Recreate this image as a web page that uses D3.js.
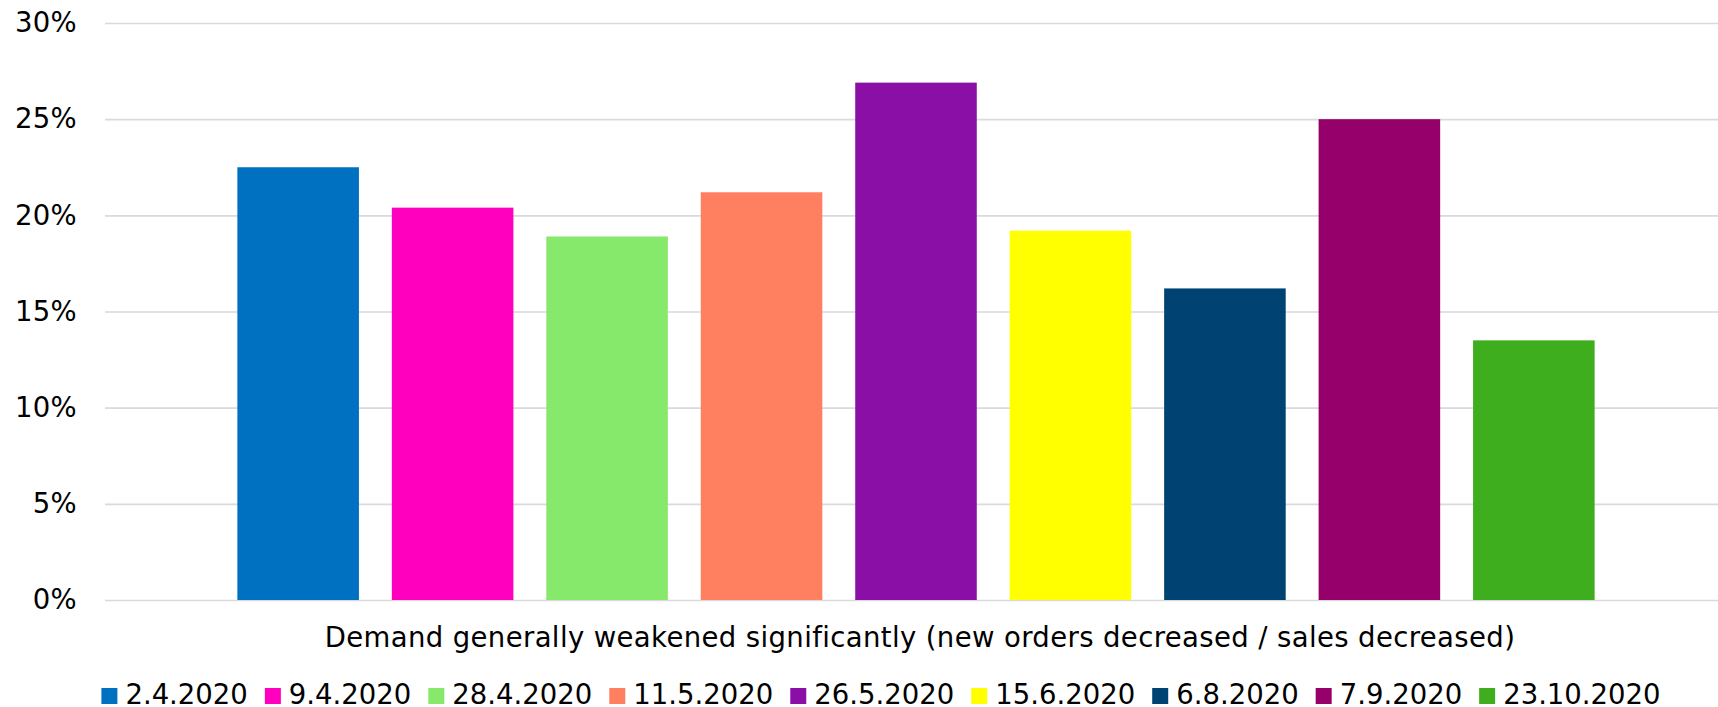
<!DOCTYPE html>
<html>
<head>
<meta charset="utf-8">
<script src="https://cdn.jsdelivr.net/npm/d3@7"></script>
<style>
  html, body { margin: 0; padding: 0; background: #ffffff; }
  svg { display: block; font-family: "DejaVu Sans", Verdana, sans-serif; }
</style>
</head>
<body>
<svg id="chart" width="1718" height="707"></svg>
<script>
// Survey waves (series) and share of firms reporting significantly weakened demand
const category = "Demand generally weakened significantly (new orders decreased / sales decreased)";
const seriesNames = ["2.4.2020", "9.4.2020", "28.4.2020", "11.5.2020", "26.5.2020", "15.6.2020", "6.8.2020", "7.9.2020", "23.10.2020"];
const seriesValues = [22.5, 20.4, 18.9, 21.2, 26.9, 19.2, 16.2, 25.0, 13.5];
const seriesColors = ["#0070c0", "#ff00bf", "#87e96b", "#ff8060", "#8a0fa7", "#ffff00", "#004372", "#96006a", "#3eae1f"];
const yTicks = [0, 5, 10, 15, 20, 25, 30];

const svg = d3.select("#chart");
const fontSize = 27.5;

const plot = { left: 105, right: 1718, top: 23, bottom: 600 };

const y = d3.scaleLinear().domain([0, 30]).range([plot.bottom, plot.top]);

// one category, nine series side by side
const x = d3.scaleBand()
  .domain(seriesNames)
  .range([221, 1611])
  .paddingInner(0.213)
  .paddingOuter(0.106);

// horizontal gridlines + tick labels
const yAxis = d3.axisLeft(y)
  .tickValues(yTicks)
  .tickSize(-(plot.right - plot.left))
  .tickPadding(28)
  .tickFormat(d => d + "%");

const gy = svg.append("g")
  .attr("transform", `translate(${plot.left},0)`)
  .call(yAxis);
gy.select(".domain").remove();
gy.selectAll(".tick line")
  .attr("stroke", "#d9d9de")
  .attr("stroke-width", 1.6);
gy.selectAll(".tick text")
  .attr("fill", "#000")
  .attr("font-size", fontSize)
  .attr("letter-spacing", 0.3)
  .attr("font-family", "DejaVu Sans, Verdana, sans-serif");

// bars
svg.append("g")
  .selectAll("rect")
  .data(seriesNames.map((n, i) => ({ name: n, value: seriesValues[i], color: seriesColors[i] })))
  .join("rect")
  .attr("x", d => x(d.name))
  .attr("width", x.bandwidth())
  .attr("y", d => y(d.value))
  .attr("height", d => y(0) - y(d.value))
  .attr("fill", d => d.color);

// category label
svg.append("text")
  .attr("x", 920)
  .attr("y", 647)
  .attr("text-anchor", "middle")
  .attr("font-size", fontSize)
  .attr("letter-spacing", 0.38)
  .attr("fill", "#000")
  .text(category);

// legend, centred below the category label
const legend = svg.append("g");
const swatch = 16, swatchGap = 8, itemGap = 17;
const items = legend.selectAll("g")
  .data(seriesNames.map((n, i) => ({ name: n, color: seriesColors[i] })))
  .join("g");
items.append("rect")
  .attr("width", swatch)
  .attr("height", swatch)
  .attr("y", 688)
  .attr("fill", d => d.color);
items.append("text")
  .attr("x", swatch + swatchGap)
  .attr("y", 704)
  .attr("font-size", fontSize)
  .attr("fill", "#000")
  .text(d => d.name);

let cursor = 0;
const offsets = [];
items.each(function () {
  offsets.push(cursor);
  const w = d3.select(this).select("text").node().getComputedTextLength();
  cursor += swatch + swatchGap + w + itemGap;
});
const total = cursor - itemGap;
const legendCenter = 881;
items.attr("transform", (d, i) => `translate(${legendCenter - total / 2 + offsets[i]},0)`);
</script>
</body>
</html>
